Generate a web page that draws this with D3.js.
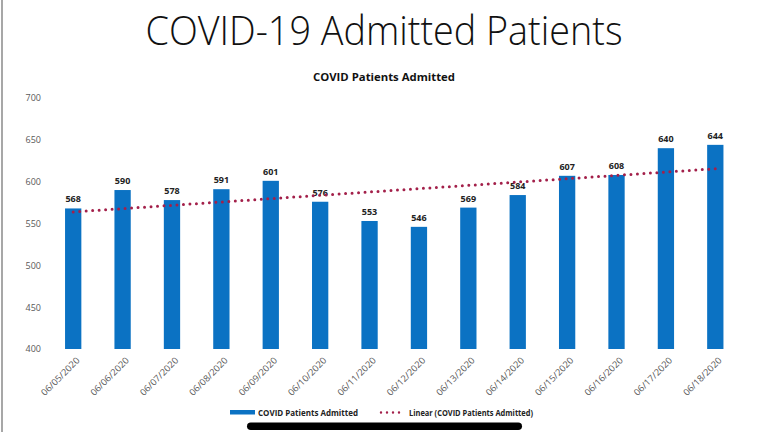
<!DOCTYPE html>
<html>
<head>
<meta charset="utf-8">
<script src="https://cdn.jsdelivr.net/npm/d3@7"></script>
<style>
  body { margin: 0; background: #fff; }
  svg { display: block; font-family: "Open Sans", sans-serif; }
</style>
</head>
<body>
<svg id="chart" width="768" height="432"></svg>
<script>
// data
var dates = ["06/05/2020","06/06/2020","06/07/2020","06/08/2020","06/09/2020","06/10/2020","06/11/2020",
             "06/12/2020","06/13/2020","06/14/2020","06/15/2020","06/16/2020","06/17/2020","06/18/2020"];
var admitted = [568, 590, 578, 591, 601, 576, 553, 546, 569, 584, 607, 608, 640, 644];
var yTicks = [400, 450, 500, 550, 600, 650, 700];

var svg = d3.select("#chart");
var blue = "#0B72C3", red = "#A3204A", grey = "#595959";

// slide border on the left
svg.append("line").attr("x1", 2).attr("x2", 2).attr("y1", 0).attr("y2", 432)
    .attr("stroke", "#8a8a8a").attr("stroke-width", 1.5);

// slide title
svg.append("text").attr("x", 384).attr("y", 45).attr("text-anchor", "middle")
    .attr("font-size", 40).attr("font-weight", 300).attr("fill", "#111")
    .attr("textLength", 477).attr("lengthAdjust", "spacingAndGlyphs")
    .text("COVID-19 Admitted Patients");

// chart title
svg.append("text").attr("x", 384).attr("y", 81).attr("text-anchor", "middle")
    .attr("font-size", 11).attr("font-weight", "bold").attr("fill", "#111")
    .attr("textLength", 142).attr("lengthAdjust", "spacingAndGlyphs")
    .text("COVID Patients Admitted");

var x = d3.scaleBand().domain(dates).range([48.5, 740]).paddingInner(0.67).paddingOuter(0.335);
var y = d3.scaleLinear().domain([400, 700]).range([349, 98]);

// y axis labels (no line)
var yAxis = svg.append("g").attr("transform", "translate(41,0)")
    .call(d3.axisLeft(y).tickValues(yTicks).tickSize(0).tickPadding(0));
yAxis.select(".domain").remove();
yAxis.selectAll("text").attr("font-size", 9).attr("fill", grey).attr("font-family", "Open Sans");

// bars
svg.selectAll("rect.bar").data(admitted).enter().append("rect")
    .attr("class", "bar")
    .attr("x", function(d, i) { return x(dates[i]); })
    .attr("width", x.bandwidth())
    .attr("y", function(d) { return y(d); })
    .attr("height", function(d) { return y(400) - y(d); })
    .attr("fill", blue);

// data labels
svg.selectAll("text.val").data(admitted).enter().append("text")
    .attr("class", "val")
    .attr("x", function(d, i) { return x(dates[i]) + x.bandwidth() / 2; })
    .attr("y", function(d) { return y(d) - 6; })
    .attr("text-anchor", "middle").attr("font-size", 9).attr("font-weight", "bold").attr("fill", "#222")
    .text(function(d) { return d; });

// x axis labels rotated
var xAxis = svg.append("g").attr("transform", "translate(0,356)")
    .call(d3.axisBottom(x).tickSize(0).tickPadding(0));
xAxis.select(".domain").remove();
xAxis.selectAll("text")
    .attr("font-size", 9).attr("fill", grey).attr("font-family", "Open Sans")
    .attr("text-anchor", "end").attr("dy", 0)
    .attr("textLength", 50).attr("lengthAdjust", "spacingAndGlyphs")
    .attr("transform", "translate(7,5) rotate(-45)");

// linear trendline (least squares over the bars)
var n = admitted.length;
var mx = d3.mean(d3.range(n)), my = d3.mean(admitted);
var slope = d3.sum(admitted, function(d, i) { return (i - mx) * (d - my); }) /
            d3.sum(d3.range(n), function(i) { return (i - mx) * (i - mx); });
var icpt = my - slope * mx;
var cx = function(i) { return x(dates[i]) + x.bandwidth() / 2; };
svg.append("line")
    .attr("x1", cx(0)).attr("y1", y(icpt))
    .attr("x2", cx(n - 1)).attr("y2", y(icpt + slope * (n - 1)))
    .attr("stroke", red).attr("stroke-width", 3)
    .attr("stroke-linecap", "round").attr("stroke-dasharray", "0 6.5");

// legend
var lg = svg.append("g").attr("font-size", 8.5).attr("font-weight", "bold").attr("fill", "#222");
lg.append("rect").attr("x", 230).attr("y", 410).attr("width", 25).attr("height", 4.5).attr("fill", blue);
lg.append("text").attr("x", 258).attr("y", 415.5)
    .attr("textLength", 100).attr("lengthAdjust", "spacingAndGlyphs").text("COVID Patients Admitted");
lg.append("line").attr("x1", 381).attr("x2", 405).attr("y1", 412.5).attr("y2", 412.5)
    .attr("stroke", red).attr("stroke-width", 2.4).attr("stroke-linecap", "round").attr("stroke-dasharray", "0 6");
lg.append("text").attr("x", 409).attr("y", 415.5)
    .attr("textLength", 124).attr("lengthAdjust", "spacingAndGlyphs").text("Linear (COVID Patients Admitted)");

// phone home bar overlay
svg.append("rect").attr("x", 247).attr("y", 422.5).attr("width", 275).attr("height", 7.5)
    .attr("rx", 3.75).attr("fill", "#000");
</script>
</body>
</html>
